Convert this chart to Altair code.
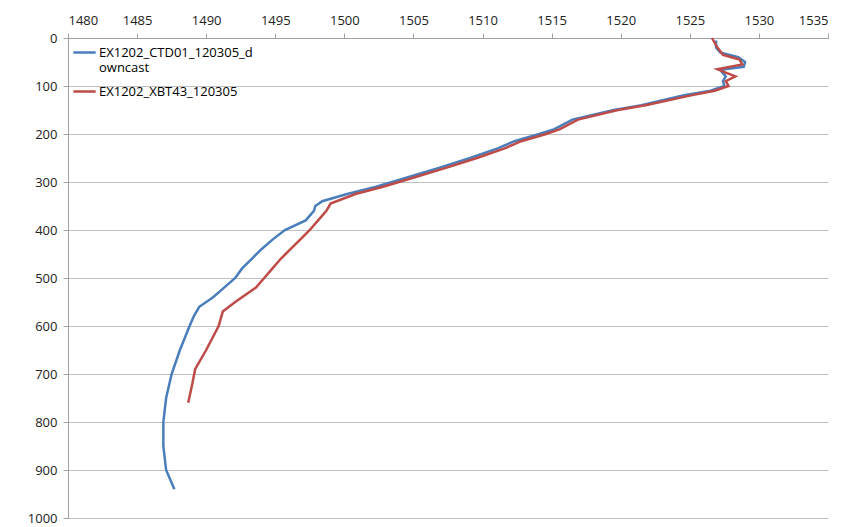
import pandas as pd
import altair as alt

CTD = "EX1202_CTD01_120305_downcast"
XBT = "EX1202_XBT43_120305"

ctd_depth = [5, 20, 30, 40, 50, 60, 65, 70, 80, 90, 100, 110, 120, 140, 150, 170, 190, 200, 215, 230,
             250, 270, 290, 310, 325, 340, 350, 360, 380, 400, 420, 440, 460, 480, 500, 520, 540, 560,
             580, 600, 650, 700, 750, 800, 850, 900, 940]
ctd_speed = [1526.9, 1526.9, 1527.2, 1528.5, 1529.0, 1528.9, 1527.5, 1527.3, 1527.6, 1527.4, 1527.5,
             1526.5, 1524.5, 1521.5, 1519.5, 1516.5, 1515.2, 1514.1, 1512.3, 1511.1, 1509.1, 1506.9,
             1504.6, 1502.3, 1500.2, 1498.4, 1497.9, 1497.8, 1497.2, 1495.7, 1494.8, 1494.0, 1493.3,
             1492.6, 1492.1, 1491.3, 1490.5, 1489.5, 1489.1, 1488.8, 1488.1, 1487.5, 1487.1, 1486.9,
             1486.9, 1487.1, 1487.7]

xbt_depth = [0, 20, 35, 45, 55, 65, 72, 80, 90, 100, 110, 120, 140, 150, 170, 190, 200, 215, 230, 250,
             270, 290, 310, 325, 345, 360, 380, 400, 420, 440, 460, 480, 500, 520, 550, 570, 600, 650,
             690, 720, 760]
xbt_speed = [1526.6, 1527.0, 1527.4, 1528.6, 1528.8, 1527.0, 1527.6, 1528.3, 1527.6, 1527.8, 1526.8,
             1525.0, 1521.8, 1519.8, 1516.9, 1515.6, 1514.6, 1512.8, 1511.6, 1509.6, 1507.4, 1505.1,
             1502.8, 1500.8, 1499.0, 1498.7, 1498.1, 1497.5, 1496.8, 1496.1, 1495.4, 1494.8, 1494.2,
             1493.6, 1492.1, 1491.2, 1490.9, 1490.0, 1489.2, 1489.0, 1488.7]

df = pd.concat([
    pd.DataFrame({"series": CTD, "depth": ctd_depth, "speed": ctd_speed}),
    pd.DataFrame({"series": XBT, "depth": xbt_depth, "speed": xbt_speed}),
])

chart = (
    alt.Chart(df)
    .mark_line(strokeWidth=2.5)
    .encode(
        x=alt.X("speed:Q", scale=alt.Scale(domain=[1480, 1535], nice=False),
                axis=alt.Axis(orient="top", values=list(range(1480, 1536, 5)), grid=False, format="d",
                              title=None, domainColor="#a0a0a0", tickColor="#a0a0a0",
                              labelPadding=6, tickSize=5)),
        y=alt.Y("depth:Q", scale=alt.Scale(domain=[0, 1000], reverse=True, nice=False),
                axis=alt.Axis(values=list(range(0, 1001, 100)), title=None, gridColor="#c0c0c0", format="d",
                              domainColor="#a0a0a0", tickColor="#a0a0a0", labelPadding=6)),
        color=alt.Color("series:N", scale=alt.Scale(domain=[CTD, XBT], range=["#4a7ebb", "#be4b48"]),
                        legend=alt.Legend(
                            orient="none", legendX=4, legendY=2, title=None,
                            symbolType="stroke", symbolStrokeWidth=2.5, symbolSize=500,
                            labelFontSize=13, labelLimit=400, rowPadding=4, labelOffset=2,
                            labelExpr="datum.label == '" + CTD + "' ? ['EX1202_CTD01_120305_d', 'owncast'] : datum.label",
                        )),
        order="depth:Q",
    )
    .properties(width=760, height=480, padding={"left": 60, "top": 30, "right": 10, "bottom": 10},
                autosize=alt.AutoSizeParams(type="none"))
    .configure_axis(labelFont="Open Sans", labelFontSize=13, labelColor="#222")
    .configure_legend(labelFont="Open Sans")
    .configure_view(stroke=None)
)

chart.save("out.html", embed_options={"renderer": "svg", "actions": False})
